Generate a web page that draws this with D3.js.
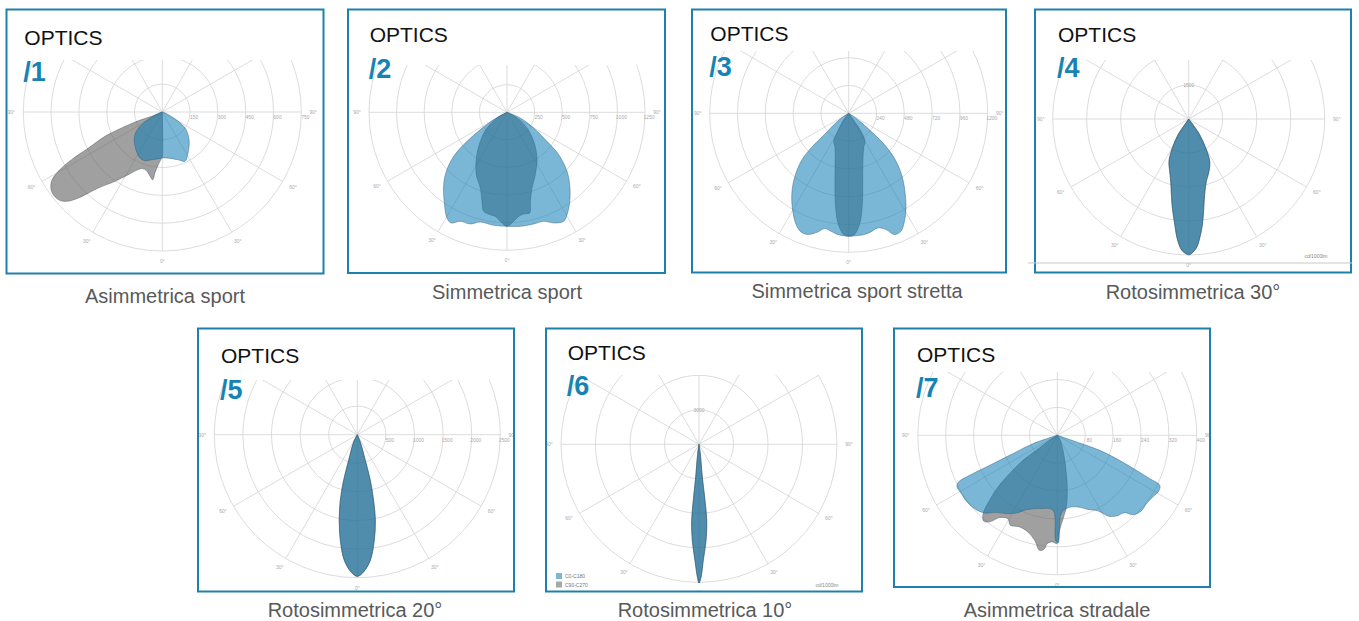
<!DOCTYPE html>
<html>
<head>
<meta charset="utf-8">
<script src="https://cdn.jsdelivr.net/npm/d3@7"></script>
<style>
  body { margin: 0; background: #fff; }
  svg { display: block; font-family: "Liberation Sans", Arial, sans-serif; }
</style>
</head>
<body>
<svg id="chart" width="1359" height="621"></svg>
<script>

// captions under each box
var captions = ['Asimmetrica sport', 'Simmetrica sport', 'Simmetrica sport stretta', 'Rotosimmetrica 30°',
                'Rotosimmetrica 20°', 'Rotosimmetrica 10°', 'Asimmetrica stradale'];
var numbers = ['/1', '/2', '/3', '/4', '/5', '/6', '/7'];

// ring values (cd/1000lm) of each polar grid
var rings1 = [150, 300, 450, 600, 750];
var rings2 = [250, 500, 750, 1000, 1250];
var rings3 = [240, 480, 720, 960, 1200];
var rings4 = [1500, 3000, 4500, 6000];
var rings5 = [500, 1000, 1500, 2000, 2500];
var rings6 = [3000, 6000, 9000, 12000];
var rings7 = [80, 160, 240, 320, 400];

// curves: [gamma in degrees (0 = down, + = right), intensity]
var optic1C0 = [[-90, 0], [-75, 10], [-63.6, 64], [-58.5, 131], [-51.8, 184], [-43.7, 219], [-33.2, 254],
  [-25.9, 276], [-19.6, 279], [-12.6, 264], [-4.9, 253], [0, 248], [7.4, 251], [18.5, 272], [24.7, 293],
  [30.7, 268], [42.6, 215], [50, 178], [54.8, 150], [59.8, 100], [70, 22], [80, 5], [90, 0]];
var optic1C90 = [[-68, 0], [-68, 62], [-70, 138], [-68.5, 236], [-67, 336], [-64, 444], [-62.3, 553],
  [-60.3, 646], [-58, 705], [-54.4, 735], [-49.9, 734], [-47, 707], [-44.3, 649], [-40.1, 536],
  [-34.3, 453], [-28.5, 385], [-20, 325], [-15, 328], [-8.1, 369], [-6.9, 331], [-4.3, 285],
  [-0.9, 248], [0, 240], [0, 0]];

var optic2C0 = [[-90, 0], [-61.2, 138], [-57, 288], [-54, 448], [-50.5, 626], [-45.8, 766], [-41.2, 871],
  [-35.2, 987], [-29.6, 1101], [-26.8, 1123], [-23.2, 1074], [-18.2, 1065], [-13.7, 1023], [-6.7, 1031],
  [0, 1033], [6.7, 1040], [13.4, 1040], [18.6, 1042], [22.9, 1088], [27.5, 1113], [30.4, 1075],
  [35.2, 987], [40.9, 867], [45.5, 762], [50.7, 605], [54, 448], [59.5, 281], [66.8, 131], [90, 0]];
var optic2C90 = [[-90, 0], [-60.3, 104], [-51.9, 230], [-42.6, 357], [-33.9, 498], [-26.2, 630],
  [-19.4, 727], [-15.7, 837], [-13.3, 921], [-9.3, 940], [-6.4, 949], [-3.5, 989], [0, 1033], [3.5, 989],
  [6.4, 949], [9.3, 933], [12.7, 935], [14.7, 834], [18.3, 722], [24.4, 620], [33.3, 496], [42.6, 357],
  [51.9, 230], [60.3, 104], [90, 0]];

var optic3C0 = [[-90, 0], [-55.9, 97], [-48.8, 279], [-47.4, 442], [-44.8, 584], [-40, 729], [-35, 857],
  [-29.7, 974], [-25.3, 1063], [-21.9, 1104], [-18.7, 1105], [-14.6, 1059], [-11.9, 1017], [-8.5, 1030],
  [-5.2, 1051], [0, 1061], [4.2, 1058], [7.4, 1055], [10.6, 1042], [14.2, 1021], [17.8, 1054],
  [20.6, 1118], [23.9, 1114], [27.3, 1049], [31.2, 955], [35.8, 830], [40.8, 699], [45.6, 551],
  [48.8, 410], [51.1, 248], [55, 95], [90, 0]];
var optic3C90 = [[-90, 0], [-36.9, 86], [-31.4, 182], [-28.2, 274], [-21.5, 322], [-14, 487], [-10, 683],
  [-7.4, 853], [-5.3, 965], [-2.4, 1048], [0, 1061], [2.7, 1048], [5.5, 965], [7.6, 854], [10.2, 683],
  [14.4, 487], [23.4, 326], [30.2, 280], [34.4, 188], [35.4, 85], [90, 0]];

// rotosymmetric optics: the same curve in both planes
var optic4 = [[-90, 0], [-35, 309], [-34.3, 838], [-29.4, 1469], [-25, 2059], [-20, 2452], [-16.1, 2862],
  [-12.9, 3422], [-10.4, 3991], [-7.5, 4701], [-5.6, 5274], [-3.2, 5773], [-1, 5954], [0.4, 5984],
  [3.4, 5698], [5.3, 5270], [7.4, 4697], [9.6, 3982], [11.9, 3409], [15.8, 2858], [21.2, 2478],
  [26.4, 2086], [30.4, 1482], [35, 847], [37, 313], [90, 0]];
var optic5 = [[-90, 0], [-26.6, 143], [-18.7, 474], [-16.7, 834], [-14.5, 1187], [-11.9, 1531],
  [-9.1, 1872], [-5.9, 2209], [-2.6, 2402], [0, 2477], [2.6, 2402], [5.9, 2209], [9.1, 1872],
  [11.9, 1531], [13.9, 1183], [15.9, 830], [17.3, 470], [22.3, 138], [90, 0]];
var optic6 = [[-90, 0], [-8, 817], [-5.8, 2861], [-5.8, 4896], [-5.5, 6644], [-4, 8365], [-2, 10096],
  [-0.7, 11539], [0, 12061], [0.9, 11539], [2.1, 10096], [4.2, 8374], [5.8, 6644], [6.1, 4896],
  [5.8, 2861], [8, 817], [90, 0]];

var optic7C0 = [[-90, 0], [-71.1, 74], [-67.6, 137], [-66.2, 202], [-65.6, 265], [-64.7, 313], [-63, 323],
  [-58.7, 322], [-54.2, 322], [-48.4, 317], [-43.1, 305], [-38.4, 282], [-33.1, 268], [-27.8, 252],
  [-22.6, 231], [-13.6, 216], [-3.3, 215], [-0.9, 301], [0.5, 309], [2.9, 225], [8.4, 210], [16.1, 214],
  [22.5, 230], [28.3, 246], [32.1, 273], [36.2, 287], [41, 294], [43.7, 315], [48, 324], [52.5, 322],
  [57.2, 326], [61.3, 332], [64, 327], [64.9, 292], [66.1, 248], [68.1, 192], [70.5, 129], [71, 68], [90, 0]];
var optic7C90 = [[-90, 0], [-57, 26], [-54.5, 74], [-53.9, 122], [-51.2, 175], [-48.9, 226], [-46.2, 269],
  [-43.5, 309], [-40.7, 324], [-38, 315], [-35, 288], [-30.6, 278], [-27.6, 291], [-22.3, 284],
  [-16.9, 290], [-12.2, 308], [-8.7, 334], [-6.4, 327], [-5.4, 312], [-2.7, 306], [-0.2, 310],
  [1.4, 272], [4.4, 235], [7.2, 207], [10.9, 151], [14.7, 94], [20.8, 46], [34.9, 11], [90, 0]];

var spokeAngles = [0, 30, 60, 90, 120, 150, 180, 210, 240, 270, 300, 330];
var angleLabels = [-90, -60, -30, 0, 30, 60, 90];
var legendLabels = ['C0-C180', 'C90-C270'];

var panels = [
  { rings: rings1, c0: optic1C0, c90: optic1C90 },
  { rings: rings2, c0: optic2C0, c90: optic2C90 },
  { rings: rings3, c0: optic3C0, c90: optic3C90 },
  { rings: rings4, c0: optic4, c90: optic4 },
  { rings: rings5, c0: optic5, c90: optic5 },
  { rings: rings6, c0: optic6, c90: optic6 },
  { rings: rings7, c0: optic7C0, c90: optic7C90 }
];

// box, polar centre, radius, clip top, title offsets, caption position
var layout = [
  { box: [6.5, 9.5, 317, 264], cx: 162.3, cy: 112, R: 139, top: 60, tx: 17.8, ty: 35.2, ny: 71, cap: [165, 303], ringPos: 'h' },
  { box: [348, 9.5, 317, 263.5], cx: 507, cy: 112.3, R: 138, top: 65, tx: 21.7, ty: 32.8, ny: 68.5, cap: [507, 299], ringPos: 'h' },
  { box: [692, 9.5, 314, 263], cx: 848.7, cy: 113.3, R: 139, top: 51, tx: 18.3, ty: 31.8, ny: 66.8, cap: [857, 298], ringPos: 'h' },
  { box: [1035, 9.5, 316, 263], cx: 1188.7, cy: 119, R: 136, top: 60, tx: 23, ty: 32.8, ny: 67.8, cap: [1193, 299], ringPos: 'v' },
  { box: [198, 328.5, 316, 263], cx: 357.3, cy: 434.7, R: 143, top: 380, tx: 23, ty: 34.5, ny: 70, cap: [355, 617], ringPos: 'h' },
  { box: [546, 328.5, 316, 263], cx: 699, cy: 444.3, R: 138, top: 375, tx: 21.7, ty: 31.8, ny: 66.8, cap: [705, 617], ringPos: 'v' },
  { box: [894, 328.5, 316, 258.5], cx: 1057.3, cy: 435.3, R: 139.5, top: 372, tx: 23, ty: 33.5, ny: 68.5, cap: [1057, 617], ringPos: 'h' }
];

var blue = 'rgb(18,125,182)', gray = 'rgb(97,97,97)';

var svg = d3.select('#chart');
var defs = svg.append('defs');

// draw one optic panel
function drawPanel(p, L, i) {
  var g = svg.append('g');
  var b = L.box;

  defs.append('clipPath').attr('id', 'clip' + i)
    .append('rect')
    .attr('x', b[0] + 1).attr('y', L.top)
    .attr('width', b[2] - 2).attr('height', b[1] + b[3] - L.top - 1);

  var r = d3.scaleLinear().domain([0, d3.max(p.rings)]).range([0, L.R]);
  var plot = g.append('g').attr('clip-path', 'url(#clip' + i + ')')
    .append('g').attr('transform', 'translate(' + L.cx + ',' + L.cy + ')');

  // grid
  plot.selectAll('circle.ring').data(p.rings).enter()
    .append('circle')
    .attr('class', 'ring')
    .attr('r', function (d) { return r(d); })
    .attr('fill', 'none').attr('stroke', '#d3d3d3').attr('stroke-width', 0.8);

  plot.selectAll('line.spoke').data(spokeAngles).enter()
    .append('line')
    .attr('x1', 0).attr('y1', 0)
    .attr('x2', function (a) { return L.R * Math.sin(a * Math.PI / 180); })
    .attr('y2', function (a) { return L.R * Math.cos(a * Math.PI / 180); })
    .attr('stroke', '#d3d3d3').attr('stroke-width', 0.8);

  plot.selectAll('text.ang').data(angleLabels).enter()
    .append('text')
    .attr('x', function (a) { return (L.R + 12) * Math.sin(a * Math.PI / 180); })
    .attr('y', function (a) { return (L.R + 10) * Math.cos(a * Math.PI / 180) + 2; })
    .attr('text-anchor', 'middle')
    .attr('font-size', 5).attr('fill', '#aaa')
    .text(function (a) { return Math.abs(a) + '°'; });

  // ring values, only those that stay inside the visible part
  var shown = p.rings.filter(function (d) {
    return L.ringPos === 'h' || L.cy - r(d) - 4 > L.top;
  });
  plot.selectAll('text.rv').data(shown).enter()
    .append('text')
    .attr('x', function (d) { return L.ringPos === 'h' ? r(d) + 4 : 0; })
    .attr('y', function (d) { return L.ringPos === 'h' ? 7 : -r(d) + 2; })
    .attr('text-anchor', 'middle')
    .attr('font-size', 5).attr('fill', '#aaa')
    .text(function (d) { return d; });

  // photometric curves
  var line = d3.lineRadial()
    .angle(function (d) { return Math.PI - d[0] * Math.PI / 180; })
    .radius(function (d) { return r(d[1]); })
    .curve(d3.curveCatmullRom.alpha(0.5));

  plot.append('path').datum(p.c90)
    .attr('d', function (d) { return line(d) + 'Z'; })
    .attr('fill', gray).attr('fill-opacity', 0.6)
    .attr('stroke', '#3d4d57').attr('stroke-width', 0.6).attr('stroke-opacity', 0.7);

  plot.append('path').datum(p.c0)
    .attr('d', function (d) { return line(d) + 'Z'; })
    .attr('fill', blue).attr('fill-opacity', 0.56)
    .attr('stroke', '#2a5670').attr('stroke-width', 0.6).attr('stroke-opacity', 0.7);

  // frame and titles
  g.append('rect')
    .attr('x', b[0]).attr('y', b[1]).attr('width', b[2]).attr('height', b[3])
    .attr('fill', 'none').attr('stroke', '#1f80ab').attr('stroke-width', 2);

  g.append('text')
    .attr('x', b[0] + L.tx).attr('y', b[1] + L.ty)
    .attr('font-size', 21).attr('fill', '#111')
    .text('OPTICS');

  g.append('text')
    .attr('x', b[0] + L.tx - 1).attr('y', b[1] + L.ny)
    .attr('font-size', 27).attr('font-weight', 'bold').attr('fill', '#1683b4')
    .text(numbers[i]);

  svg.append('text')
    .attr('x', L.cap[0]).attr('y', L.cap[1])
    .attr('text-anchor', 'middle')
    .attr('font-size', 20).attr('fill', '#595959')
    .text(captions[i]);
}

panels.forEach(function (p, i) { drawPanel(p, layout[i], i); });

// small extras of panel 4 and 6
svg.append('line')
  .attr('x1', 1028).attr('x2', 1352).attr('y1', 263).attr('y2', 263)
  .attr('stroke', '#c8c8c8').attr('stroke-width', 1);
svg.append('text').attr('x', 1316).attr('y', 258).attr('text-anchor', 'middle')
  .attr('font-size', 5).attr('fill', '#888').text('cd/1000lm');
svg.append('text').attr('x', 827).attr('y', 587).attr('text-anchor', 'middle')
  .attr('font-size', 5).attr('fill', '#888').text('cd/1000lm');

var legend = svg.append('g').attr('transform', 'translate(556,573)');
legend.selectAll('rect').data(legendLabels).enter()
  .append('rect')
  .attr('x', 0).attr('y', function (d, i) { return i * 8.5; })
  .attr('width', 6).attr('height', 6)
  .attr('fill', function (d, i) { return i === 0 ? '#7ab6d6' : '#a8a8a8'; });
legend.selectAll('text').data(legendLabels).enter()
  .append('text')
  .attr('x', 9).attr('y', function (d, i) { return i * 8.5 + 5; })
  .attr('font-size', 5).attr('fill', '#777')
  .text(function (d) { return d; });

</script>
</body>
</html>
